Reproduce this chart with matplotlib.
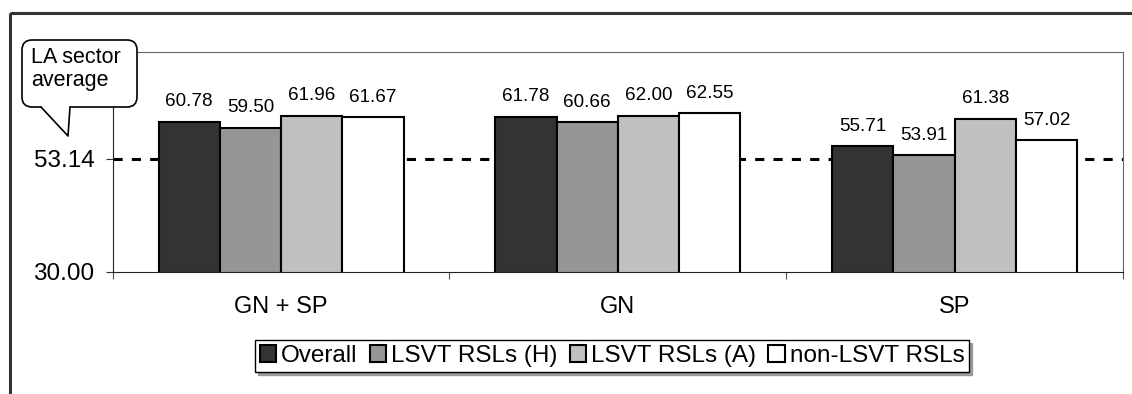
import numpy as np
import matplotlib
matplotlib.use('Agg')
from matplotlib import pyplot as plt
from matplotlib.patches import Patch, FancyBboxPatch, Polygon, Rectangle
from matplotlib.lines import Line2D
import matplotlib.transforms as mtransforms

plt.rcParams['font.family'] = ['Liberation Sans', 'DejaVu Sans']

categories = ['GN + SP', 'GN', 'SP']
series = ['Overall', 'LSVT RSLs (H)', 'LSVT RSLs (A)', 'non-LSVT RSLs']
overall = [60.78, 61.78, 55.71]
lsvt_h = [59.50, 60.66, 53.91]
lsvt_a = [61.96, 62.00, 61.38]
non_lsvt = [61.67, 62.55, 57.02]
sector_avg = 53.14
colors = ['#333333', '#969696', '#c0c0c0', '#ffffff']

W, H = 1132, 394
fig = plt.figure(figsize=(W / 100, H / 100), dpi=100)
# pixel coords measured from the top-left corner
px = mtransforms.Affine2D().scale(1 / 100, -1 / 100).translate(0, H / 100) + fig.dpi_scale_trans

# outer chart frame (runs off the right and bottom edge)
fig.patches.append(Rectangle((10, 13), 1200, 500, transform=px, fill=False,
                             edgecolor='#333333', lw=2.2))

ax = fig.add_axes([112.7 / W, 1 - 272 / H, (1123 - 112.7) / W, (272 - 52) / H])

x = np.arange(len(categories))
w = 0.182
for i, (name, vals) in enumerate(zip(series, [overall, lsvt_h, lsvt_a, non_lsvt])):
    bars = ax.bar(x + (i - 1.5) * w, vals, w, bottom=0, color=colors[i],
                  edgecolor='black', linewidth=1.5, zorder=2)
    for b, v in zip(bars, vals):
        ax.annotate('%.2f' % v, (b.get_x() + b.get_width() / 2, v),
                    xytext=(0, 11), textcoords='offset points',
                    ha='center', va='baseline', fontsize=13.6)

ax.axhline(sector_avg, color='black', lw=2.2, dashes=(3, 3), zorder=1)

ax.set_xlim(-0.5, 2.5)
ax.set_ylim(30, 75)
ax.set_yticks([30, sector_avg])
ax.set_yticklabels(['%.2f' % t for t in [30, sector_avg]])
ax.set_xticks([-0.5, 0.5, 1.5, 2.5])
ax.set_xticklabels([])
ax.set_xticks(x, minor=True)
ax.set_xticklabels(categories, minor=True)
ax.tick_params(axis='x', which='major', length=5, color='#555555')
ax.tick_params(axis='x', which='minor', length=0, pad=17, labelsize=17)
ax.tick_params(axis='y', length=5, pad=8, labelsize=17.5, color='#333333')
for s in ['left', 'bottom']:
    ax.spines[s].set_color('#222222')
for s in ['top', 'right']:
    ax.spines[s].set_color('#666666')

# callout
fig.patches.append(FancyBboxPatch((22, 40), 115, 67, transform=px,
                                  boxstyle='round,pad=0,rounding_size=10',
                                  facecolor='white', edgecolor='black', lw=1.2))
fig.patches.append(Polygon([(41, 106), (68, 136), (70, 106)], closed=True,
                           transform=px, facecolor='white', edgecolor='none'))
fig.lines.append(Line2D([41, 68, 70], [107, 136, 107], transform=px,
                        color='black', lw=1.2))
fig.text(31, 47, 'LA sector\naverage', transform=px, fontsize=15.5,
         ha='left', va='top', linespacing=1.12)

handles = [Patch(facecolor=c, edgecolor='black', lw=1.5) for c in colors]
fig.legend(handles, series, loc='center', bbox_to_anchor=(612 / W, 1 - 356 / H),
           ncol=4, fontsize=17.5, frameon=True, fancybox=False, edgecolor='black',
           handlelength=0.68, handleheight=0.68, handletextpad=0.2,
           columnspacing=0.5, borderpad=0.2, borderaxespad=0,
           shadow={'color': '#999999', 'alpha': 1})

plt.savefig('out.png', dpi=100)
